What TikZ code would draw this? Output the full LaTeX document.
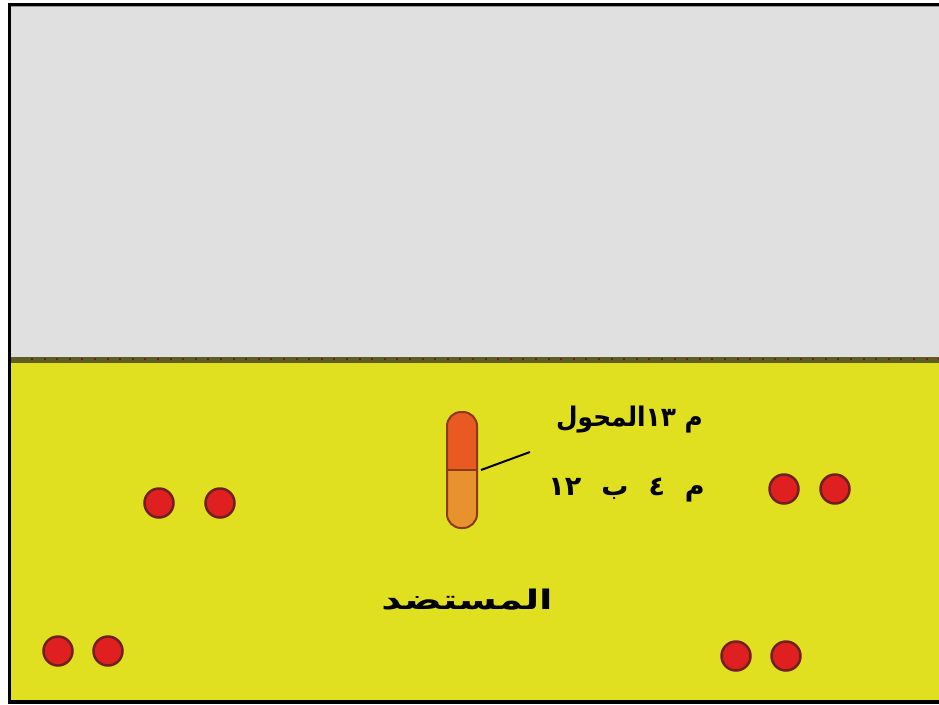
\documentclass[tikz,border=0pt]{standalone}
\usepackage{fontspec}
\newfontfamily\arabicfont[Script=Arabic]{DejaVu Sans}
\TeXXeTstate=1
\definecolor{bgyellow}{HTML}{E0E020}
\definecolor{bggray}{HTML}{E0E0E0}
\definecolor{bandolive}{HTML}{5E5E22}
\definecolor{dashred}{HTML}{6A2020}
\definecolor{dotred}{HTML}{E02020}
\definecolor{dotrim}{HTML}{702020}
\definecolor{capred}{HTML}{E85A22}
\definecolor{caporange}{HTML}{E8922E}
\definecolor{caprim}{HTML}{8A3A1A}
\begin{document}
\begin{tikzpicture}[x=1pt,y=-1pt,
  dot/.style={circle,minimum size=29pt,inner sep=0pt,fill=dotred,draw=dotrim,line width=2.5pt},
  artext/.style={inner sep=0pt,font=\arabicfont\bfseries\fontsize{27}{32}\selectfont,text=black}]
\useasboundingbox (0,0) rectangle (939,704);
% backgrounds
\fill[white] (0,0) rectangle (939,704);
\fill[bggray] (8,3) rectangle (939,357);
\fill[bgyellow] (8,362) rectangle (939,704);
\fill[bandolive] (8,357) rectangle (939,363);
\foreach \i in {0,...,72} {\fill[dashred] (31+12.6*\i,357.5) rectangle (33+12.6*\i,360);}
% frame
\fill[black] (8,3) rectangle (939,5.5);
\fill[black!40] (11,5.5) rectangle (939,6.5);
\fill[black] (8,3) rectangle (11,704);
\fill[black] (8,700) rectangle (939,704);
% capsule
\begin{scope}
\clip[rounded corners=14pt] (447,412) rectangle (477,528);
\fill[capred] (447,412) rectangle (477,470);
\fill[caporange] (447,470) rectangle (477,528);
\end{scope}
\draw[caprim,line width=2pt,rounded corners=14pt] (447,412) rectangle (477,528);
\draw[caprim,line width=1.5pt] (447,470) -- (477,470);
\coordinate (capR) at (481,470);
\coordinate (lblend) at (530,452);
\draw[black,line width=2pt] (capR) -- (lblend);
% dots
\node[dot] (d1) at (159,503) {};
\node[dot] (d2) at (220,503) {};
\node[dot] (d3) at (784,489) {};
\node[dot] (d4) at (835,489) {};
\node[dot] (d5) at (58,651) {};
\node[dot] (d6) at (108,651) {};
\node[dot] (d7) at (736,656) {};
\node[dot] (d8) at (786,656) {};
% labels
\node[artext,anchor=east,xscale=0.92] (l1) at (703,420) {\beginR م \beginL١٣\endL المحول\endR};
\node[artext,anchor=east] (l2) at (705,490) {\beginR م\hspace{20pt}٤\hspace{20pt}ب\hspace{20pt}\beginL١٢\endL\endR};
\node[artext,xscale=1.45] (ant) at (467,600) {\beginR المستضد\endR};
\end{tikzpicture}
\end{document}
